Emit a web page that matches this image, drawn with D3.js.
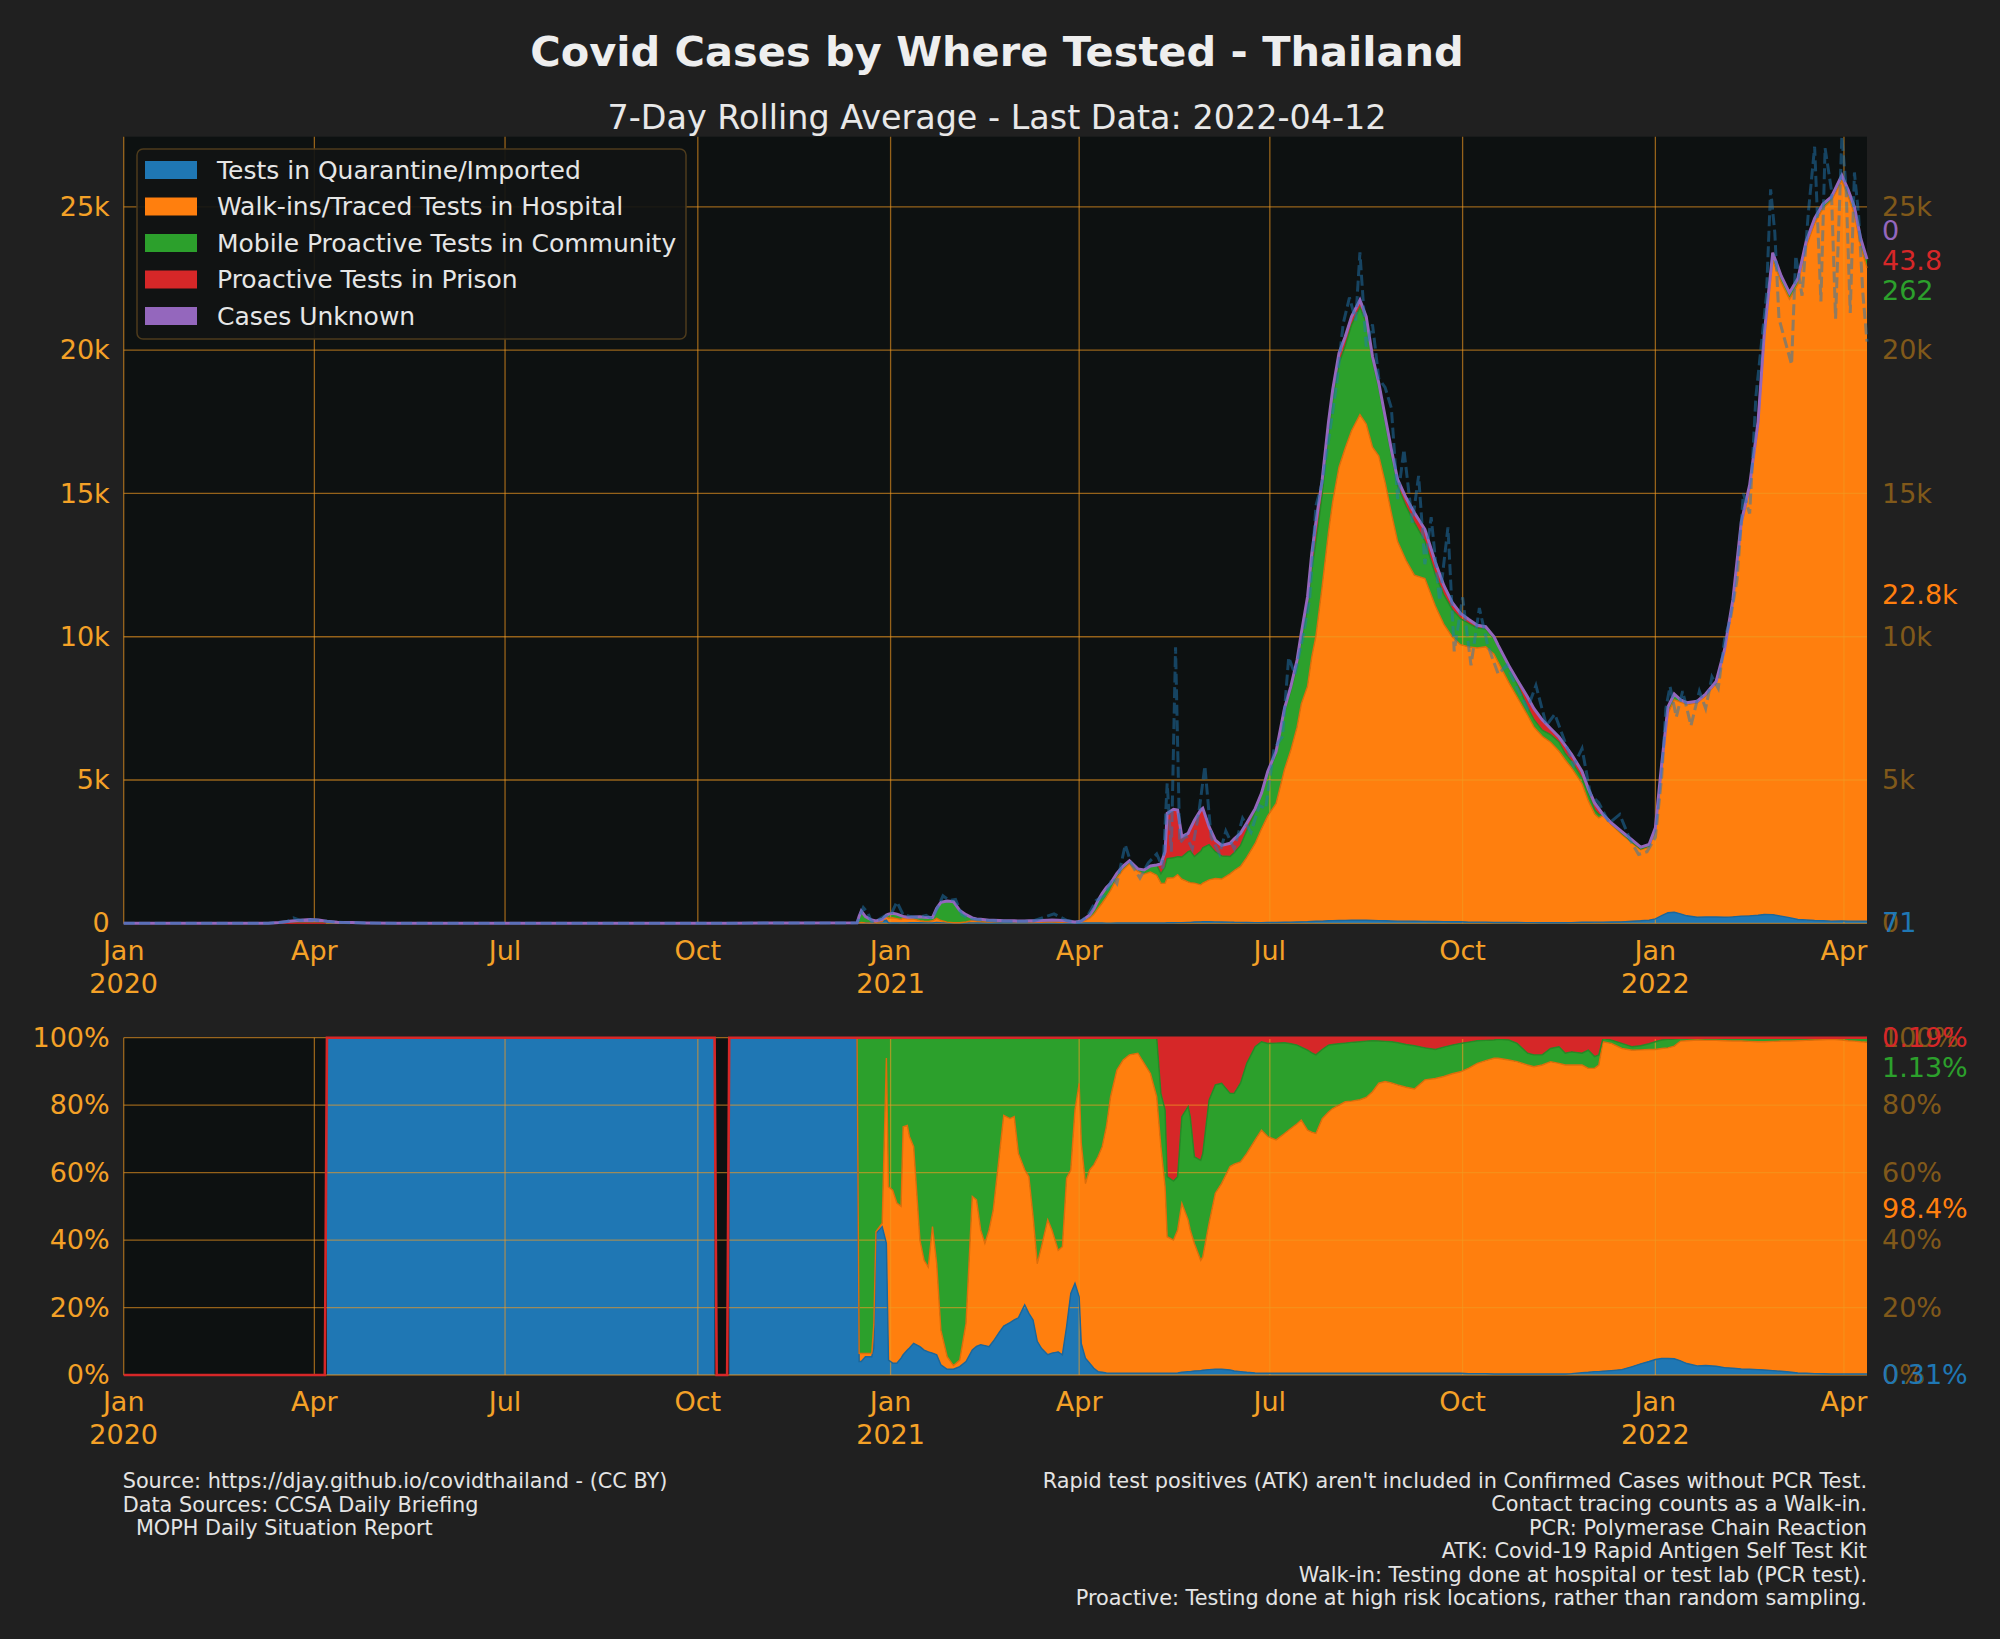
<!DOCTYPE html>
<html>
<head>
<meta charset="utf-8">
<script src="https://cdn.jsdelivr.net/npm/d3@7/dist/d3.min.js"></script>
<style>
  body { margin: 0; background: #202020; }
  svg { display: block; font-family: "DejaVu Sans", sans-serif; }
</style>
</head>
<body>
<div id="chart"></div>
<script>
// 7-day rolling average of cases, and split by where tested (% of known cases, null = no split)
const dates = [
  "2020-01-01","2020-02-01","2020-03-01","2020-03-10","2020-03-15","2020-03-20","2020-03-25","2020-03-30","2020-04-03","2020-04-06",
  "2020-04-07","2020-04-12","2020-04-19","2020-04-26","2020-05-10","2020-06-01","2020-07-01","2020-08-01","2020-09-01","2020-10-09","2020-10-10","2020-10-15","2020-10-16","2020-11-15","2020-12-16",
  "2020-12-17","2020-12-18","2020-12-20","2020-12-23","2020-12-24","2020-12-25","2020-12-28","2020-12-30","2020-12-31",
  "2021-01-02","2021-01-04","2021-01-06","2021-01-07","2021-01-09","2021-01-10","2021-01-12","2021-01-15","2021-01-17","2021-01-19","2021-01-21","2021-01-23","2021-01-25","2021-01-28","2021-01-31",
  "2021-02-03","2021-02-06","2021-02-09","2021-02-11","2021-02-13","2021-02-15","2021-02-17","2021-02-19","2021-02-22","2021-02-24","2021-02-27",
  "2021-03-01","2021-03-03","2021-03-06","2021-03-08","2021-03-10","2021-03-12","2021-03-14","2021-03-17","2021-03-19","2021-03-22","2021-03-24","2021-03-26","2021-03-28","2021-03-30",
  "2021-04-01","2021-04-02","2021-04-04","2021-04-06","2021-04-08","2021-04-10","2021-04-12","2021-04-14","2021-04-16","2021-04-19","2021-04-22","2021-04-25","2021-04-29",
  "2021-05-02","2021-05-05","2021-05-08","2021-05-10","2021-05-12","2021-05-13","2021-05-16","2021-05-18","2021-05-20","2021-05-23","2021-05-24","2021-05-26","2021-05-29","2021-05-30",
  "2021-06-02","2021-06-05","2021-06-08","2021-06-12","2021-06-14","2021-06-17","2021-06-20","2021-06-24","2021-06-27","2021-06-30",
  "2021-07-04","2021-07-08","2021-07-11","2021-07-14","2021-07-16","2021-07-19","2021-07-21","2021-07-23","2021-07-26","2021-07-29","2021-07-31",
  "2021-08-03","2021-08-06","2021-08-09","2021-08-13","2021-08-16","2021-08-19","2021-08-22","2021-08-25","2021-08-28","2021-08-31",
  "2021-09-04","2021-09-08","2021-09-13","2021-09-18","2021-09-22","2021-09-26","2021-09-30",
  "2021-10-04","2021-10-08","2021-10-12","2021-10-16","2021-10-18","2021-10-23","2021-10-27",
  "2021-11-01","2021-11-04","2021-11-08","2021-11-12","2021-11-16","2021-11-19","2021-11-22","2021-11-27","2021-11-30",
  "2021-12-03","2021-12-05","2021-12-07","2021-12-11","2021-12-16","2021-12-21","2021-12-25","2021-12-29",
  "2022-01-01","2022-01-04","2022-01-07","2022-01-10","2022-01-13","2022-01-16","2022-01-21","2022-01-25","2022-01-30",
  "2022-02-03","2022-02-07","2022-02-11","2022-02-15","2022-02-19","2022-02-22","2022-02-26",
  "2022-03-02","2022-03-06","2022-03-10","2022-03-14","2022-03-18","2022-03-22","2022-03-26","2022-03-31",
  "2022-04-03","2022-04-06","2022-04-09","2022-04-12"
];
const total7d = [
  0,1,2,4,25,70,110,130,115,85,
  75,40,25,12,5,4,5,6,6,6,4,4,6,8,15,
  250,430,233,116,100,81,140,290,320,
  350,320,270,240,215,210,220,225,210,205,200,523,733,780,756,
  450,300,190,151,140,125,110,105,100,93,90,
  85,82,84,88,90,93,100,110,114,105,98,85,65,47,
  60,80,180,290,500,800,1047,1250,1396,1745,2000,2186,1900,
  1860,2000,2035,2070,2500,3838,3977,3954,3024,3140,3300,3600,3950,4012,
  3373,2900,2720,2791,2950,3140,3500,4000,4536,5300,
  6000,7500,8257,9188,10118,11397,12900,14000,15488,17500,18620,
  19896,20476,21172,21752,21172,19780,18852,17692,16532,15488,
  14850,14328,13748,12600,11800,11200,10816,
  10600,10400,10351,10000,9700,9000,8500,
  7900,7500,7100,6800,6500,6200,5900,5300,4700,
  4200,4000,3800,3500,3200,2900,2660,2750,
  3330,5550,7550,8000,7800,7700,7750,8000,8440,
  9550,11300,14000,15300,17500,20600,23400,
  22600,22000,22500,23800,24600,25100,25350,26100,
  25600,25000,23900,23177
];
const N = null;
const pctImported = [
  N,N,N,N,N,N,N,N,N,N,
  100,100,100,100,100,100,100,100,100,100,N,N,100,100,100,
  4,4,5.4,5.4,8,42,44,39,4.4,
  3.5,3.5,5,6,7.4,8,9.4,8.4,7.4,6.9,6.5,6,3,1.7,1.7,
  2.5,4,7.4,8.5,9,8.7,8.4,10,12.8,14.5,15.5,
  16.3,17,20.8,18.3,16.3,10,7.9,6,6.5,6.9,6,14.3,24.2,27.2,
  23.2,9.4,5,3.5,2,1,0.8,0.6,0.5,0.5,0.5,0.5,0.5,
  0.5,0.5,0.5,0.5,0.5,0.5,0.5,0.6,0.8,1,1,1.2,1.3,1.4,
  1.6,1.7,1.7,1.5,1.2,1,0.8,0.6,0.5,0.5,
  0.5,0.5,0.5,0.5,0.5,0.5,0.5,0.5,0.5,0.5,0.5,
  0.5,0.5,0.5,0.5,0.5,0.5,0.5,0.5,0.5,0.5,
  0.5,0.5,0.5,0.5,0.5,0.5,0.5,
  0.4,0.4,0.4,0.3,0.3,0.3,0.3,
  0.3,0.3,0.3,0.3,0.3,0.3,0.4,0.7,0.8,
  1,1,1.1,1.3,1.6,2.5,3.3,4,
  4.6,4.9,4.9,4.8,4.2,3.4,2.7,2.8,2.6,
  2.2,2,1.8,1.7,1.6,1.5,1.3,
  1.1,0.9,0.6,0.5,0.4,0.35,0.3,0.3,
  0.3,0.3,0.3,0.3063
];
const pctWalkin = [
  N,N,N,N,N,N,N,N,N,N,
  0,0,0,0,0,0,0,0,0,0,N,N,0,0,0,
  2.4,2.4,1,1,7,0.5,1,55,51.4,
  51.3,47.5,45,67.6,66.6,62.7,58.3,31.6,26.6,25.1,37.5,27,10.3,3.7,1.1,
  1.9,11.3,45.5,43.4,34,30.3,34.6,38.9,52.9,62.5,60.5,
  60.3,48.7,40,40.5,30.7,23,30.1,40,36.5,30.1,32,44,36.6,51.4,
  63.3,59.3,51.8,57.3,60.3,63.7,66.9,73,82,89.9,92.9,94.4,94.9,
  91.9,88.9,82,67.2,55.3,40.5,39.5,42.4,50.1,45,42,37.8,32.7,33.6,
  43.4,52.2,55.1,60.3,61.3,62.2,64.9,69.1,72.1,70.2,
  69.2,71.1,72.6,74,75.1,72.1,71.5,71.1,75.5,77.5,78.5,
  79.5,80.5,80.7,81.1,81.8,83.5,86,86.5,86.1,85.5,
  84.8,84.3,87,87.4,88,88.8,89.4,
  90.6,92,92.8,93.6,93.6,93.1,92.6,
  91.6,91.1,91.6,92.6,92.1,91.6,91.5,91.2,90.1,
  89.9,90.9,97.7,97,95.2,93.8,93.1,92.5,
  91.9,91.9,92.1,92.7,94.8,95.7,96.6,96.4,96.6,
  96.9,97,97.2,97.2,97.2,97.3,97.6,
  97.9,98.1,98.5,98.7,98.9,99.05,99.2,99,
  98.8,98.7,98.5,98.3743
];
const pctCommunity = [
  N,N,N,N,N,N,N,N,N,N,
  0,0,0,0,0,0,0,0,0,0,N,N,0,0,0,
  93.6,93.6,93.6,93.6,85,57.5,55,6,44.2,
  45.2,49,50,26.4,26,29.3,32.3,60,66,68,56,67,86.7,94.6,97.2,
  95.6,84.7,47.1,48.1,57,61,57,51.1,34.3,23,24,
  23.4,34.3,39.2,41.2,53,67,62,54,57,63,62,41.7,39.2,21.4,
  13.5,31.3,43.2,39.2,37.7,35.3,32.3,26.4,17.5,9.6,6.6,5.1,4.6,
  7.6,10.6,17.5,15.8,22.8,17.8,17.5,15.8,25.7,33.6,33.6,25.7,29.6,30.7,
  36.5,32.1,29.7,21.7,21,23.3,26.7,27.6,26.2,27.6,
  28.7,26.9,25.1,23.3,21.6,23.7,23.5,23.3,20.5,19.8,19,
  18.2,17.4,17.4,17.2,16.7,15.1,12.5,11.9,12.2,12.5,
  12.7,12.8,9.5,8.6,8.7,8.5,8.4,
  7.7,6.7,6,5.4,5.6,5.9,5.4,
  3.5,3.5,3,3.9,4.9,3.5,3.9,3.5,5.4,
  3.5,3,1,1,1.5,1,1.2,1.7,
  2.3,2.5,2.5,2.1,0.8,0.9,0.7,0.8,0.8,
  0.9,1,0.9,1,1.1,1.1,1,
  0.9,0.9,0.8,0.7,0.6,0.5,0.4,0.6,
  0.75,0.85,1.05,1.1304
];
const pctPrison = [
  N,N,N,N,N,N,N,N,N,N,
  0,0,0,0,0,0,0,0,0,0,N,N,0,0,0,
  0,0,0,0,0,0,0,0,0,
  0,0,0,0,0,0,0,0,0,0,0,0,0,0,0,
  0,0,0,0,0,0,0,0,0,0,0,
  0,0,0,0,0,0,0,0,0,0,0,0,0,0,
  0,0,0,0,0,0,0,0,0,0,0,0,0,
  0,0,0,16.5,21.4,41.2,42.5,41.2,23.4,20.4,23.4,35.3,36.4,34.3,
  18.5,14,13.5,16.5,16.5,13.5,7.6,2.7,1.2,1.7,
  1.6,1.5,1.8,2.2,2.8,3.7,4.5,5.1,3.5,2.2,2,
  1.8,1.6,1.4,1.2,1,0.9,1,1.1,1.2,1.5,
  2,2.4,3,3.5,2.8,2.2,1.7,
  1.3,0.9,0.8,0.7,0.5,0.7,1.7,
  4.6,5.1,5.1,3.2,2.7,4.6,4.2,4.6,3.7,
  5.6,5.1,0.2,0.7,1.7,2.7,2.4,1.8,
  1.2,0.7,0.5,0.4,0.2,0,0,0,0,
  0,0,0.1,0.1,0.1,0.1,0.1,
  0.1,0.1,0.1,0.1,0.1,0.1,0.1,0.1,
  0.15,0.15,0.15,0.189
];

// raw daily confirmed cases (dashed line)
const rawDates = [
  "2020-01-01","2020-03-10","2020-03-16","2020-03-19","2020-03-22","2020-03-25","2020-03-28","2020-04-01","2020-04-04","2020-04-09","2020-04-15","2020-04-22","2020-05-05","2020-06-15","2020-08-15","2020-10-15","2020-12-01","2020-12-16","2020-12-19","2020-12-21","2020-12-23","2020-12-26","2020-12-29",
  "2021-01-01","2021-01-04","2021-01-07","2021-01-10","2021-01-14","2021-01-18","2021-01-21","2021-01-26","2021-01-29","2021-02-01","2021-02-04","2021-02-08","2021-02-16","2021-03-02","2021-03-10","2021-03-20","2021-03-26",
  "2021-04-01","2021-04-05","2021-04-09","2021-04-13","2021-04-17","2021-04-19","2021-04-23","2021-04-26","2021-04-30","2021-05-04","2021-05-08","2021-05-11","2021-05-13","2021-05-15","2021-05-17","2021-05-19","2021-05-22","2021-05-25","2021-05-28","2021-05-31",
  "2021-06-03","2021-06-07","2021-06-10","2021-06-14","2021-06-18","2021-06-22","2021-06-26","2021-06-29","2021-07-03","2021-07-07","2021-07-10","2021-07-13","2021-07-17","2021-07-20","2021-07-23","2021-07-26","2021-07-30",
  "2021-08-02","2021-08-05","2021-08-08","2021-08-11","2021-08-13","2021-08-16","2021-08-19","2021-08-22","2021-08-25","2021-08-28","2021-08-31","2021-09-03","2021-09-07","2021-09-10","2021-09-13","2021-09-16","2021-09-20","2021-09-24","2021-09-27",
  "2021-10-01","2021-10-05","2021-10-09","2021-10-13","2021-10-18","2021-10-22","2021-10-27","2021-11-01","2021-11-05","2021-11-10","2021-11-14","2021-11-18","2021-11-23","2021-11-27","2021-12-01","2021-12-05","2021-12-10","2021-12-15","2021-12-20","2021-12-24","2021-12-28",
  "2022-01-01","2022-01-04","2022-01-06","2022-01-08","2022-01-11","2022-01-14","2022-01-18","2022-01-22","2022-01-25","2022-01-28","2022-01-31","2022-02-03","2022-02-06","2022-02-09","2022-02-12","2022-02-15","2022-02-18","2022-02-21","2022-02-23","2022-02-25","2022-02-27",
  "2022-03-01","2022-03-07","2022-03-09","2022-03-12","2022-03-15","2022-03-18","2022-03-21","2022-03-23","2022-03-26","2022-03-28","2022-03-31","2022-04-02","2022-04-04","2022-04-06","2022-04-08","2022-04-10","2022-04-12"
];
const rawCases = [
  0,4,32,60,188,107,109,120,89,54,30,15,3,5,6,4,12,15,548,382,46,110,250,
  279,745,300,250,200,280,150,959,800,834,300,150,100,60,80,330,100,
  30,250,789,965,1582,1390,2740,2048,1583,2112,2419,1919,4887,2500,9635,2800,3052,2600,3800,5485,
  3000,2419,3220,2600,3667,3175,4108,4000,6087,6519,9276,8685,10082,11305,14575,15376,17345,
  18901,20920,21838,21038,23418,20128,20902,19014,18702,17984,14802,16536,13988,15614,12531,14176,11252,13818,9489,
  11375,9000,11000,9700,8700,9000,8200,7500,8300,6900,7300,6500,5500,6100,4500,4200,3500,3800,2900,2400,2500,
  3000,5100,7500,8263,7200,8100,6900,8100,7500,8600,8200,9900,10700,12000,15000,14300,18400,20500,21900,25615,24100,
  21100,19500,23300,21900,24800,27100,21700,27050,25600,21100,27450,25700,21300,26200,24700,22000,20300
];

const seriesKeys = ["imported", "walkin", "community", "prison", "unknown"];
const seriesNames = [
  "Tests in Quarantine/Imported",
  "Walk-ins/Traced Tests in Hospital",
  "Mobile Proactive Tests in Community",
  "Proactive Tests in Prison",
  "Cases Unknown"
];
const seriesColors = ["#1f77b4", "#ff7f0e", "#2ca02c", "#d62728", "#9467bd"];
const yTicksTop = [0, 5000, 10000, 15000, 20000, 25000];
const yTicksBottom = [0, 0.2, 0.4, 0.6, 0.8, 1];
const notesLeft = [
  "Source: https://djay.github.io/covidthailand - (CC BY)",
  "Data Sources: CCSA Daily Briefing",
  "\u00a0\u00a0MOPH Daily Situation Report"
];
const notesRight = [
  "Rapid test positives (ATK) aren't included in Confirmed Cases without PCR Test.",
  "Contact tracing counts as a Walk-in.",
  "PCR: Polymerase Chain Reaction",
  "ATK: Covid-19 Rapid Antigen Self Test Kit",
  "Walk-in: Testing done at hospital or test lab (PCR test).",
  "Proactive: Testing done at high risk locations, rather than random sampling."
];

// build rows
const parse = d3.utcParse("%Y-%m-%d");
const round1 = v => Math.round(v * 10) / 10;
const pcts = [pctImported, pctWalkin, pctCommunity, pctPrison];
const rows = dates.map((d, i) => {
  const split = pctImported[i] != null;
  const r = { date: parse(d), total: total7d[i], split };
  let sum = 0;
  pcts.forEach((arr, j) => {
    const p = split ? arr[i] : 0;
    sum += p;
    r[seriesKeys[j]] = round1(total7d[i] * p / 100);
  });
  r.unknown = split ? Math.max(0, round1(total7d[i] * (100 - sum) / 100)) : total7d[i];
  return r;
});
const knownKeys = seriesKeys.slice(0, 4);
const shareRows = rows.map(r => {
  const known = d3.sum(knownKeys, k => r[k]);
  const s = { date: r.date, split: r.split && known > 0 };
  knownKeys.forEach(k => { s[k] = s.split ? r[k] / known : 0; });
  return s;
});
const raw = rawDates.map((d, i) => ({ date: parse(d), v: rawCases[i] }));

// layout
const W = 2000, H = 1639;
const left = 123.7, right = 1867;
const top1 = 136.7, bot1 = 923.3;
const top2 = 1037.7, bot2 = 1375;
const tickFont = 27;
const orangeText = "#f4a127";
const brownText = "#80591a";

const svg = d3.select("#chart").append("svg").attr("width", W).attr("height", H);
svg.append("rect").attr("width", W).attr("height", H).attr("fill", "#202020");

const x = d3.scaleUtc().domain([parse("2020-01-01"), parse("2022-04-12")]).range([left, right]);
const y1 = d3.scaleLinear().domain([0, d3.max(rawCases)]).range([bot1, top1]);
const y2 = d3.scaleLinear().domain([0, 1]).range([bot2, top2]);
const monthTicks = d3.utcMonth.every(3).range(parse("2020-01-01"), parse("2022-04-13"));

const stackTop = d3.stack().keys(seriesKeys)(rows);
const stackBottom = d3.stack().keys(knownKeys)(shareRows);

function panel(yTop, yBot) {
  const g = svg.append("g");
  g.append("rect").attr("x", left).attr("y", yTop)
    .attr("width", right - left).attr("height", yBot - yTop).attr("fill", "#0d1111");
  return g;
}

function drawGrid(g, yScale, ticks, yTop, yBot) {
  const grid = g.append("g").attr("stroke", "#f09a22").attr("stroke-opacity", 0.6).attr("stroke-width", 1.3);
  grid.selectAll(".gx").data(monthTicks).join("line")
    .attr("x1", d => x(d)).attr("x2", d => x(d)).attr("y1", yTop).attr("y2", yBot);
  grid.selectAll(".gy").data(ticks).join("line")
    .attr("x1", left).attr("x2", right).attr("y1", d => yScale(d)).attr("y2", d => yScale(d));
}

function drawYAxes(yScale, ticks, fmt) {
  const la = svg.append("g").attr("transform", `translate(${left},0)`)
    .call(d3.axisLeft(yScale).tickValues(ticks).tickFormat(fmt).tickSize(0).tickPadding(14));
  la.select(".domain").remove();
  la.selectAll("text").attr("fill", orangeText).style("font-size", tickFont + "px")
    .style("font-family", "DejaVu Sans");
  const ra = svg.append("g").attr("transform", `translate(${right},0)`)
    .call(d3.axisRight(yScale).tickValues(ticks).tickFormat(fmt).tickSize(0).tickPadding(15));
  ra.select(".domain").remove();
  ra.selectAll("text").attr("fill", brownText).style("font-size", tickFont + "px")
    .style("font-family", "DejaVu Sans");
}

function drawXLabels(yBase) {
  const g = svg.append("g").attr("fill", orangeText).style("font-size", tickFont + "px")
    .attr("text-anchor", "middle");
  const t = g.selectAll("text").data(monthTicks).join("text")
    .attr("x", d => x(d)).attr("y", yBase);
  t.append("tspan").text(d => d3.utcFormat("%b")(d));
  t.filter(d => d.getUTCMonth() === 0).append("tspan")
    .attr("x", d => x(d)).attr("dy", 32.5).text(d => d.getUTCFullYear());
}

// push end labels apart so they don't sit on top of each other
function spreadLabels(items, gap, lo, hi) {
  items.sort((a, b) => a.y - b.y);
  const place = g => {
    const n = g.members.length;
    let s = g.c - (n - 1) * gap / 2;
    s = Math.max(lo, Math.min(s, hi - (n - 1) * gap));
    g.start = s;
  };
  let groups = items.map(it => ({ members: [it], c: it.y }));
  groups.forEach(place);
  let merged = true;
  while (merged) {
    merged = false;
    for (let i = 0; i < groups.length - 1; i++) {
      const a = groups[i], b = groups[i + 1];
      if (a.start + a.members.length * gap > b.start) {
        const members = a.members.concat(b.members);
        const g = { members, c: d3.mean(members, m => m.y) };
        place(g);
        groups.splice(i, 2, g);
        merged = true;
        break;
      }
    }
  }
  groups.forEach(g => g.members.forEach((m, k) => { m.ly = g.start + k * gap; }));
  return items;
}

function drawEndLabels(items) {
  svg.append("g").style("font-size", tickFont + "px")
    .selectAll("text").data(items).join("text")
    .attr("x", right + 15).attr("y", d => d.ly).attr("dy", "0.35em")
    .attr("fill", d => d.color).text(d => d.text);
}

// ---------- top panel ----------
const g1 = panel(top1, bot1);
const areaTop = d3.area().x(d => x(d.data.date)).y0(d => y1(d[0])).y1(d => y1(d[1]));
const edgeTop = d3.line().x(d => x(d.data.date)).y(d => y1(d[1]));
g1.selectAll(".area").data(stackTop).join("path")
  .attr("d", areaTop).attr("fill", (d, i) => seriesColors[i]);
drawGrid(g1, y1, yTicksTop, top1, bot1);
g1.selectAll(".edge").data(stackTop).join("path")
  .attr("d", edgeTop).attr("fill", "none")
  .attr("stroke", (d, i) => i === 4 ? seriesColors[i] : d3.color(seriesColors[i]).darker(0.4))
  .attr("stroke-width", (d, i) => i === 4 ? 3 : 1.4);
g1.append("path").datum(raw)
  .attr("d", d3.line().x(d => x(d.date)).y(d => y1(d.v)))
  .attr("fill", "none").attr("stroke", "#1f77b4").attr("stroke-opacity", 0.5)
  .attr("stroke-width", 3).attr("stroke-dasharray", "11,4.5");
drawYAxes(y1, yTicksTop, d3.format("~s"));
drawXLabels(bot1 + 37);

const last = stackTop.map(s => s[s.length - 1]);
const topItems = seriesKeys.map((k, i) => ({
  y: y1((last[i][0] + last[i][1]) / 2),
  color: seriesColors[i],
  text: d3.format(".3~s")(rows[rows.length - 1][k])
}));
drawEndLabels(spreadLabels(topItems, 30, top1, bot1));

// ---------- bottom panel ----------
const g2 = panel(top2, bot2);
const areaBot = d3.area().defined(d => d.data.split)
  .x(d => x(d.data.date)).y0(d => y2(d[0])).y1(d => y2(d[1]));
const edgeBot = d3.line().defined(d => d.data.split).x(d => x(d.data.date)).y(d => y2(d[1]));
g2.selectAll(".area").data(stackBottom).join("path")
  .attr("d", areaBot).attr("fill", (d, i) => seriesColors[i]);
drawGrid(g2, y2, yTicksBottom, top2, bot2);
g2.selectAll(".edge").data(stackBottom.slice(0, 3)).join("path")
  .attr("d", edgeBot).attr("fill", "none")
  .attr("stroke", (d, i) => d3.color(seriesColors[i]).darker(0.4)).attr("stroke-width", 1.4);
// prison layer outline: drops to zero where there is no split
g2.append("path").datum(stackBottom[3])
  .attr("d", d3.line().x(d => x(d.data.date)).y(d => y2(d.data.split ? d[1] : 0)))
  .attr("fill", "none").attr("stroke", seriesColors[3]).attr("stroke-width", 2.6);
drawYAxes(y2, yTicksBottom, d3.format(".0%"));
drawXLabels(bot2 + 36);

const pctFmt = v => {
  const p = +(+(v * 100).toPrecision(3)).toFixed(2);
  return p + "%";
};
const lastS = stackBottom.map(s => s[s.length - 1]);
const botItems = knownKeys.map((k, i) => ({
  y: y2((lastS[i][0] + lastS[i][1]) / 2),
  color: seriesColors[i],
  text: pctFmt(shareRows[shareRows.length - 1][k])
}));
drawEndLabels(spreadLabels(botItems, 30, top2, bot2));

// ---------- legend ----------
const lg = svg.append("g");
lg.append("rect").attr("x", 137).attr("y", 149).attr("width", 549).attr("height", 190)
  .attr("rx", 6).attr("fill", "#111313").attr("fill-opacity", 0.92)
  .attr("stroke", "#4d3b1c").attr("stroke-width", 1.5);
const rowsL = lg.selectAll(".li").data(seriesNames).join("g")
  .attr("transform", (d, i) => `translate(0,${170 + i * 36.5})`);
rowsL.append("rect").attr("x", 145).attr("y", -9).attr("width", 52).attr("height", 18)
  .attr("fill", (d, i) => seriesColors[i]);
rowsL.append("text").attr("x", 217).attr("dy", "0.35em").attr("fill", "#e6e6e6")
  .style("font-size", "25px").text(d => d);

// ---------- titles & notes ----------
svg.append("text").attr("x", 997).attr("y", 66).attr("text-anchor", "middle")
  .attr("fill", "#eeeeee").style("font-size", "41.5px").style("font-weight", "bold")
  .text("Covid Cases by Where Tested - Thailand");
svg.append("text").attr("x", 997).attr("y", 129).attr("text-anchor", "middle")
  .attr("fill", "#e8e8e8").style("font-size", "33.4px")
  .text("7-Day Rolling Average - Last Data: 2022-04-12");

svg.append("g").attr("fill", "#e4e4e4").style("font-size", "20.8px")
  .selectAll("text").data(notesLeft).join("text")
  .attr("x", left - 1).attr("y", (d, i) => 1488 + i * 23.5).text(d => d);
svg.append("g").attr("fill", "#e4e4e4").style("font-size", "20.8px").attr("text-anchor", "end")
  .selectAll("text").data(notesRight).join("text")
  .attr("x", right).attr("y", (d, i) => 1488 + i * 23.45).text(d => d);
</script>
</body>
</html>
